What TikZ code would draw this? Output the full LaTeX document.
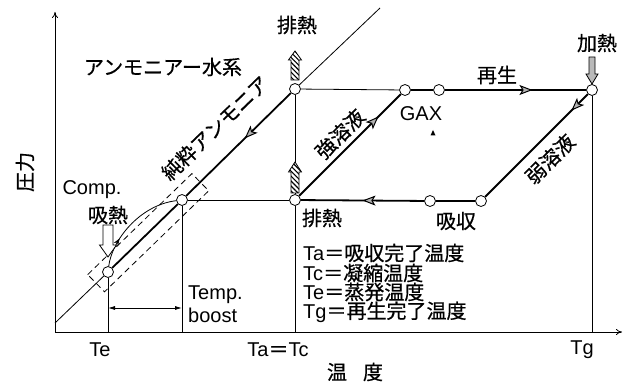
\documentclass[tikz,border=0pt]{standalone}
\usepackage{fontspec}
\setmainfont{Liberation Sans}
\newfontfamily\cjk[FakeBold=0.6]{Noto Sans CJK JP}
\usetikzlibrary{arrows.meta,decorations.markings,patterns.meta,calc}
\tikzset{
  thinline/.style={line width=0.8pt},
  heavy/.style={line width=1.8pt},
  dot/.style={circle,draw,fill=white,line width=0.8pt,minimum size=11pt,inner sep=0pt},
  lbl/.style={inner sep=0pt},
  midarrow/.style={postaction={decorate,decoration={markings,
      mark=at position #1 with {\arrow{Stealth[length=13pt,width=10pt,inset=3pt,fill=gray!60,line width=1pt]}}}}},
  smallarrow/.style={postaction={decorate,decoration={markings,
      mark=at position #1 with {\arrow{Stealth[length=7pt,width=5pt,line width=0.6pt]}}}}},
  hatcharrow/.style={draw,line width=0.8pt,preaction={fill=white},pattern={Lines[angle=-45,distance=3.5pt,line width=1.1pt]}},
  axisarrow/.style={line width=0.8pt,-{To[length=6pt,width=6pt]}},
}
\begin{document}
\begin{tikzpicture}[x=1pt,y=-1pt,font=\fontsize{20}{24}\selectfont]
\useasboundingbox (0,0) rectangle (630,385);
% nodes
\node[dot] (e) at (108,272) {};
\node[dot] (b) at (182,200) {};
\node[dot] (a) at (295,200) {};
\node[dot] (c) at (295,89) {};
\node[dot] (x1) at (405,90) {};
\node[dot] (x2) at (439,90) {};
\node[dot] (g) at (592,90) {};
\node[dot] (r1) at (430,201) {};
\node[dot] (r2) at (481,201) {};
\coordinate (O) at (55,332);
\coordinate (ytop) at (55,12);
\coordinate (xend) at (622,332);
\coordinate (d0) at (55,323);
\coordinate (d1) at (380,8);
\coordinate (tbl) at (108,308);
\coordinate (tbr) at (182,308);
% axes
\draw[axisarrow] (O) -- (ytop);
\draw[axisarrow] (O) -- (xend);
% diagonal
\draw[thinline] (d0) -- (e);
\draw[thinline] (c) -- (d1);
\draw[heavy,midarrow=0.44] (c) -- (b);
\draw[heavy] (b) -- (e);
% verticals
\draw[thinline] (e) -- (e |- O);
\draw[thinline] (b) -- (b |- O);
\draw[thinline] (c) -- (a);
\draw[thinline] (a) -- (a |- O);
\draw[thinline] (g) -- (g |- O);
% horizontals
\draw[thinline] (b) -- (a);
\draw[thinline] (c) -- (x1);
\draw[heavy] (x1) -- (x2);
\draw[heavy,midarrow=0.62] (x2) -- (g);
\draw[heavy,midarrow=0.16] (g) -- (r2);
\draw[heavy] (r2) -- (r1);
\draw[heavy,midarrow=0.5] (r1) -- (a);
\draw[heavy,midarrow=0.78] (a) -- (x1);
% compression curve
\draw[thinline,smallarrow=0.3] (e) .. controls (112,240) and (140,205) .. (b);
% dashed box
\draw[thinline,dash pattern=on 6pt off 4pt] (87.7,274.6) -- (191.9,173.6) -- (208.7,190.8) -- (104.5,291.8) -- cycle;
% temp boost
\draw[thinline,{Latex[length=7pt,width=4pt]}-{Latex[length=7pt,width=4pt]}] (tbl) -- (tbr);
% open arrow above e
\draw[line width=0.8pt,fill=white] ($(e)+(-5,-47)$) -- ($(e)+(-5,-27)$) -- ($(e)+(-8.5,-27)$) -- ($(e)+(0,-15)$) -- ($(e)+(8.5,-27)$) -- ($(e)+(5,-27)$) -- ($(e)+(5,-47)$) -- cycle;
% hatched arrows
\draw[hatcharrow] ($(c)+(-4,-9)$) -- ($(c)+(-4,-29)$) -- ($(c)+(-6.5,-29)$) -- ($(c)+(0,-38)$) -- ($(c)+(6.5,-29)$) -- ($(c)+(4,-29)$) -- ($(c)+(4,-9)$) -- cycle;
\draw[hatcharrow] ($(a)+(-4,-7)$) -- ($(a)+(-4,-28)$) -- ($(a)+(-6.5,-28)$) -- ($(a)+(0,-38)$) -- ($(a)+(6.5,-28)$) -- ($(a)+(4,-28)$) -- ($(a)+(4,-7)$) -- cycle;
% heating arrow
\draw[line width=0.8pt,fill=gray!55] ($(g)+(-3,-33)$) -- ($(g)+(-3,-16)$) -- ($(g)+(-6,-16)$) -- ($(g)+(0,-6)$) -- ($(g)+(6,-16)$) -- ($(g)+(3,-16)$) -- ($(g)+(3,-33)$) -- cycle;
% small mark
\fill (433,130) -- (430.5,135.5) -- (435.5,135.5) -- cycle;
% labels
\node[lbl,rotate=90] (yl) at (25,172) {\cjk 圧力};
\node[lbl] (sys) at (163,67) {\cjk アンモニアー水系};
\node[lbl] (h1) at (297,25) {\cjk 排熱};
\node[lbl] (h2) at (597,43) {\cjk 加熱};
\node[lbl] (regen) at (497,75) {\cjk 再生};
\node[lbl] (gax) at (421,114) {GAX};
\node[lbl,rotate=44] (pure) at (215,128) {\cjk 純粋アンモニア};
\node[lbl,rotate=45] (strong) at (340,134) {\cjk 強溶液};
\node[lbl,rotate=45] (weak) at (550,159) {\cjk 弱溶液};
\node[lbl] (comp) at (92,190) {Comp.};
\node[lbl] (abs1) at (108,215) {\cjk 吸熱};
\node[lbl,anchor=west] (tp1) at (188,295) {Temp.};
\node[lbl,anchor=west] (tp2) at (188,315) {boost};
\node[lbl] (h3) at (322,218) {\cjk 排熱};
\node[lbl] (abs2) at (456,221) {\cjk 吸収};
\node[lbl,anchor=west] (d1l) at (303,253) {Ta{\cjk ＝吸収完了温度}};
\node[lbl,anchor=west] (d2l) at (303,273) {Tc{\cjk ＝凝縮温度}};
\node[lbl,anchor=west] (d3l) at (303,292) {Te{\cjk ＝蒸発温度}};
\node[lbl,anchor=west] (d4l) at (303,312) {Tg{\cjk ＝再生完了温度}};
\node[lbl] (te) at (100,350) {Te};
\node[lbl] (tatc) at (278,350) {Ta{\cjk ＝}Tc};
\node[lbl] (tg) at (582,350) {Tg};
\node[lbl] (xl) at (355,372) {\cjk 温\hspace{16pt}度};
\end{tikzpicture}
\end{document}
